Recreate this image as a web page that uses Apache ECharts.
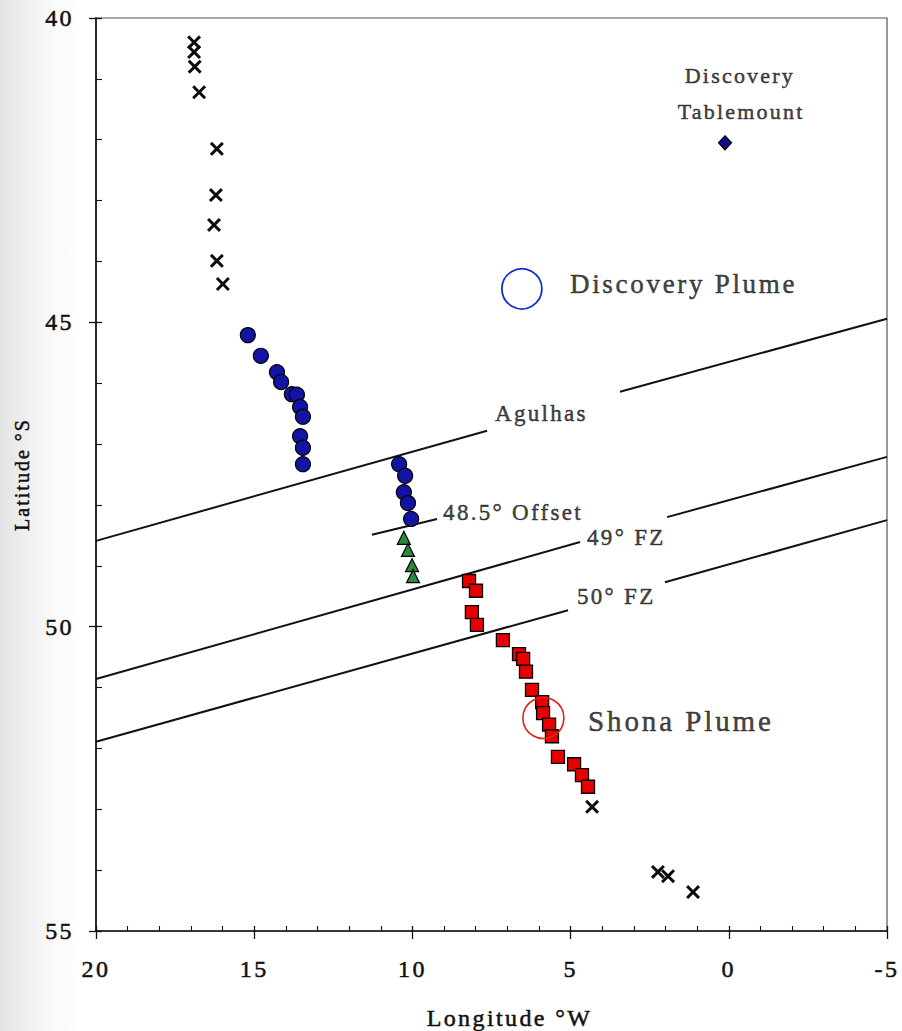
<!DOCTYPE html>
<html>
<head>
<meta charset="utf-8">
<script src="https://cdn.jsdelivr.net/npm/echarts@6.0.0/dist/echarts.min.js"></script>
<style>
  html, body { margin: 0; padding: 0; width: 902px; height: 1031px; overflow: hidden;
    background: linear-gradient(to right, #e3e3e3 0px, #eeeeee 22px, #f8f8f8 50px, #ffffff 80px); }
  #chart { width: 902px; height: 1031px; }
  #chart text { letter-spacing: 0.1em; }
</style>
</head>
<body>
<div id="chart"></div>
<script>
// Axis settings (longitude in degrees west, latitude in degrees south)
const lonRange = [-5, 20];
const latRange = [40, 55];
const tickStep = 5;

// Ridge axis samples outside the plume-influenced segments [lon W, lat S]
const ridgeNorth = [[16.90, 40.40], [16.90, 40.56], [16.88, 40.80], [16.74, 41.22], [16.18, 42.15],
  [16.21, 42.91], [16.27, 43.40], [16.18, 43.99], [15.99, 44.37]];
const ridgeSouth = [[4.32, 52.96], [2.24, 54.03], [1.92, 54.10], [1.13, 54.36]];

// Samples north of the 48.5° offset
const northSegment = [[15.20, 45.21], [14.79, 45.55], [14.28, 45.82], [14.15, 45.98], [13.81, 46.18],
  [13.65, 46.19], [13.55, 46.39], [13.46, 46.55], [13.55, 46.87], [13.46, 47.06], [13.46, 47.33],
  [10.42, 47.33], [10.23, 47.52], [10.27, 47.79], [10.14, 47.97], [10.04, 48.23]];

// Samples between the 48.5° offset and the 49° FZ
const offsetSegment = [[10.27, 48.54], [10.14, 48.74], [10.01, 48.99], [9.98, 49.17]];

// Samples south of the 49° FZ
const shonaSegment = [[8.21, 49.25], [7.99, 49.41], [8.12, 49.76], [7.96, 49.97], [7.14, 50.22],
  [6.63, 50.45], [6.50, 50.53], [6.41, 50.74], [6.22, 51.04], [5.90, 51.24], [5.87, 51.42],
  [5.68, 51.61], [5.59, 51.80], [5.40, 52.14], [4.89, 52.26], [4.64, 52.44], [4.45, 52.63]];

// Discovery Tablemount
const tablemount = [[0.12, 42.05]];

// Plume centres
const discoveryPlume = [[6.54, 44.45]];
const shonaPlume = [[5.86, 51.50]];

// Fracture zone traces, each a list of drawn pieces [[lon, lat], [lon, lat]]
const agulhasFZ = [[[20, 48.59], [7.64, 46.78]], [[3.44, 46.14], [-5, 44.94]]];
const fz49 = [[[20, 50.86], [4.70, 48.61]], [[1.95, 48.20], [-5, 47.21]]];
const fz50 = [[[20, 51.89], [5.08, 49.73]], [[2.02, 49.27], [-5, 48.25]]];
const offset485 = [[[11.28, 48.49], [9.22, 48.23]]];

// Annotation texts and their anchors [text, lon, lat]
const annotations = [
  ['Discovery', -0.35, 40.94],
  ['Tablemount', -0.39, 41.54],
  ['Discovery Plume', 5.02, 44.37],
  ['Shona Plume', 4.45, 51.55],
  ['Agulhas', 7.39, 46.49],
  ['48.5° Offset', 9.03, 48.13],
  ['49° FZ', 4.48, 48.54],
  ['50° FZ', 4.80, 49.51]
];

const SERIF = '"Liberation Serif", "Times New Roman", serif';
const INK = '#111111';

// Slight outline so the serif glyphs read as solidly as printed type
const heavy = { textBorderColor: INK, textBorderWidth: 0.5 };

// Per-annotation text style
const annotationStyle = {
  'Discovery': { size: 22, pos: 'inside' },
  'Tablemount': { size: 22, pos: 'inside' },
  'Discovery Plume': { size: 27, pos: 'right' },
  'Shona Plume': { size: 29, pos: 'right' },
  'Agulhas': { size: 23, pos: 'right' },
  '48.5° Offset': { size: 23, pos: 'right' },
  '49° FZ': { size: 23, pos: 'right' },
  '50° FZ': { size: 23, pos: 'right' }
};

const crossPath = 'path://M1.8,0L6,4.2L10.2,0L12,1.8L7.8,6L12,10.2L10.2,12L6,7.8L1.8,12L0,10.2L4.2,6L0,1.8Z';

function traceSeries(name, pieces) {
  return pieces.map(function (piece, i) {
    return {
      name: name + '-' + i,
      type: 'line',
      data: piece,
      symbol: 'none',
      silent: true,
      z: 1,
      lineStyle: { color: INK, width: 2 }
    };
  });
}

const grid = { left: 96, top: 18, width: 791, height: 913, show: true,
  outerBoundsMode: 'none', containLabel: false,
  borderColor: '#555', borderWidth: 1.2, backgroundColor: 'transparent' };

const baseX = { type: 'value', min: lonRange[0], max: lonRange[1], interval: tickStep,
  inverse: true, position: 'bottom', splitLine: { show: false } };
const baseY = { type: 'value', min: latRange[0], max: latRange[1], interval: tickStep,
  inverse: true, position: 'left', splitLine: { show: false } };

const option = {
  animation: false,
  backgroundColor: 'transparent',
  textStyle: { fontFamily: SERIF, color: INK },
  grid: grid,
  xAxis: [
    Object.assign({}, baseX, {
      name: 'Longitude °W', nameLocation: 'middle', nameGap: 75,
      nameTextStyle: Object.assign({ fontFamily: SERIF, fontSize: 24, color: INK, padding: [0, 0, 0, 36] }, heavy),
      axisLine: { show: true, onZero: false, lineStyle: { color: INK, width: 1.6 } },
      axisTick: { show: true, inside: false, length: 8, lineStyle: { color: INK, width: 1.3 } },
      minorTick: { show: false },
      axisLabel: Object.assign({ show: true, margin: 26, fontFamily: SERIF, fontSize: 24, color: INK }, heavy)
    }),
    Object.assign({}, baseX, {
      axisLine: { show: false, onZero: false },
      axisTick: { show: true, inside: true, length: 5, lineStyle: { color: INK, width: 1.3 } },
      minorTick: { show: true, splitNumber: 5, length: 5, lineStyle: { color: INK, width: 1.1 } },
      axisLabel: { show: false }
    })
  ],
  yAxis: [
    Object.assign({}, baseY, {
      name: 'Latitude °S', nameLocation: 'middle', nameGap: 64, nameRotate: 90,
      nameTextStyle: Object.assign({ fontFamily: SERIF, fontSize: 20, color: INK }, heavy),
      axisLine: { show: true, onZero: false, lineStyle: { color: INK, width: 1.6 } },
      axisTick: { show: true, inside: false, length: 7, lineStyle: { color: INK, width: 1.3 } },
      minorTick: { show: false },
      axisLabel: Object.assign({ show: true, margin: 22, fontFamily: SERIF, fontSize: 24, color: INK }, heavy)
    }),
    Object.assign({}, baseY, {
      axisLine: { show: false, onZero: false },
      axisTick: { show: true, inside: true, length: 6, lineStyle: { color: INK, width: 1.3 } },
      minorTick: { show: true, splitNumber: 5, length: 6, lineStyle: { color: INK, width: 1.1 } },
      axisLabel: { show: false }
    })
  ],
  series: [].concat(
    traceSeries('Agulhas', agulhasFZ),
    traceSeries('49FZ', fz49),
    traceSeries('50FZ', fz50),
    traceSeries('Offset', offset485),
    [
      {
        name: 'ridge', type: 'scatter', z: 3, silent: true,
        data: ridgeNorth.concat(ridgeSouth),
        symbol: crossPath, symbolSize: 14,
        itemStyle: { color: '#0c0c0c', borderWidth: 0, opacity: 1 }
      },
      {
        name: 'north of offset', type: 'scatter', z: 3, silent: true,
        data: northSegment, symbol: 'circle', symbolSize: 15,
        itemStyle: { color: '#1414a4', borderColor: '#000', borderWidth: 1.2, opacity: 1 }
      },
      {
        name: 'offset segment', type: 'scatter', z: 3, silent: true,
        data: offsetSegment, symbol: 'triangle', symbolSize: [13, 13],
        itemStyle: { color: '#2a8a38', borderColor: '#000', borderWidth: 1.2, opacity: 1 }
      },
      {
        name: 'Shona segment', type: 'scatter', z: 3, silent: true,
        data: shonaSegment, symbol: 'rect', symbolSize: 13,
        itemStyle: { color: '#e80000', borderColor: '#000', borderWidth: 1.3, opacity: 1 }
      },
      {
        name: 'Discovery Tablemount', type: 'scatter', z: 3, silent: true,
        data: tablemount, symbol: 'diamond', symbolSize: [13, 14],
        itemStyle: { color: '#10108a', borderColor: '#000', borderWidth: 1.2, opacity: 1 }
      },
      {
        name: 'Discovery Plume', type: 'scatter', z: 4, silent: true,
        data: discoveryPlume, symbol: 'circle', symbolSize: 40,
        itemStyle: { color: 'rgba(0,0,0,0)', borderColor: '#1030c8', borderWidth: 1.8, opacity: 1 }
      },
      {
        name: 'Shona Plume', type: 'scatter', z: 4, silent: true,
        data: shonaPlume, symbol: 'circle', symbolSize: 41,
        itemStyle: { color: 'rgba(0,0,0,0)', borderColor: '#e02418', borderWidth: 1.6, opacity: 1 }
      },
      {
        name: 'annotations', type: 'scatter', z: 5, silent: true,
        symbolSize: 0,
        data: annotations.map(function (a) {
          const st = annotationStyle[a[0]];
          return {
            value: [a[1], a[2]],
            label: Object.assign({
              show: true, formatter: a[0], position: st.pos, distance: 0,
              fontFamily: SERIF, fontSize: st.size, color: INK
            }, heavy)
          };
        })
      }
    ]
  )
};

const chart = echarts.init(document.getElementById('chart'), null, { renderer: 'svg' });
chart.setOption(option);
</script>
</body>
</html>
